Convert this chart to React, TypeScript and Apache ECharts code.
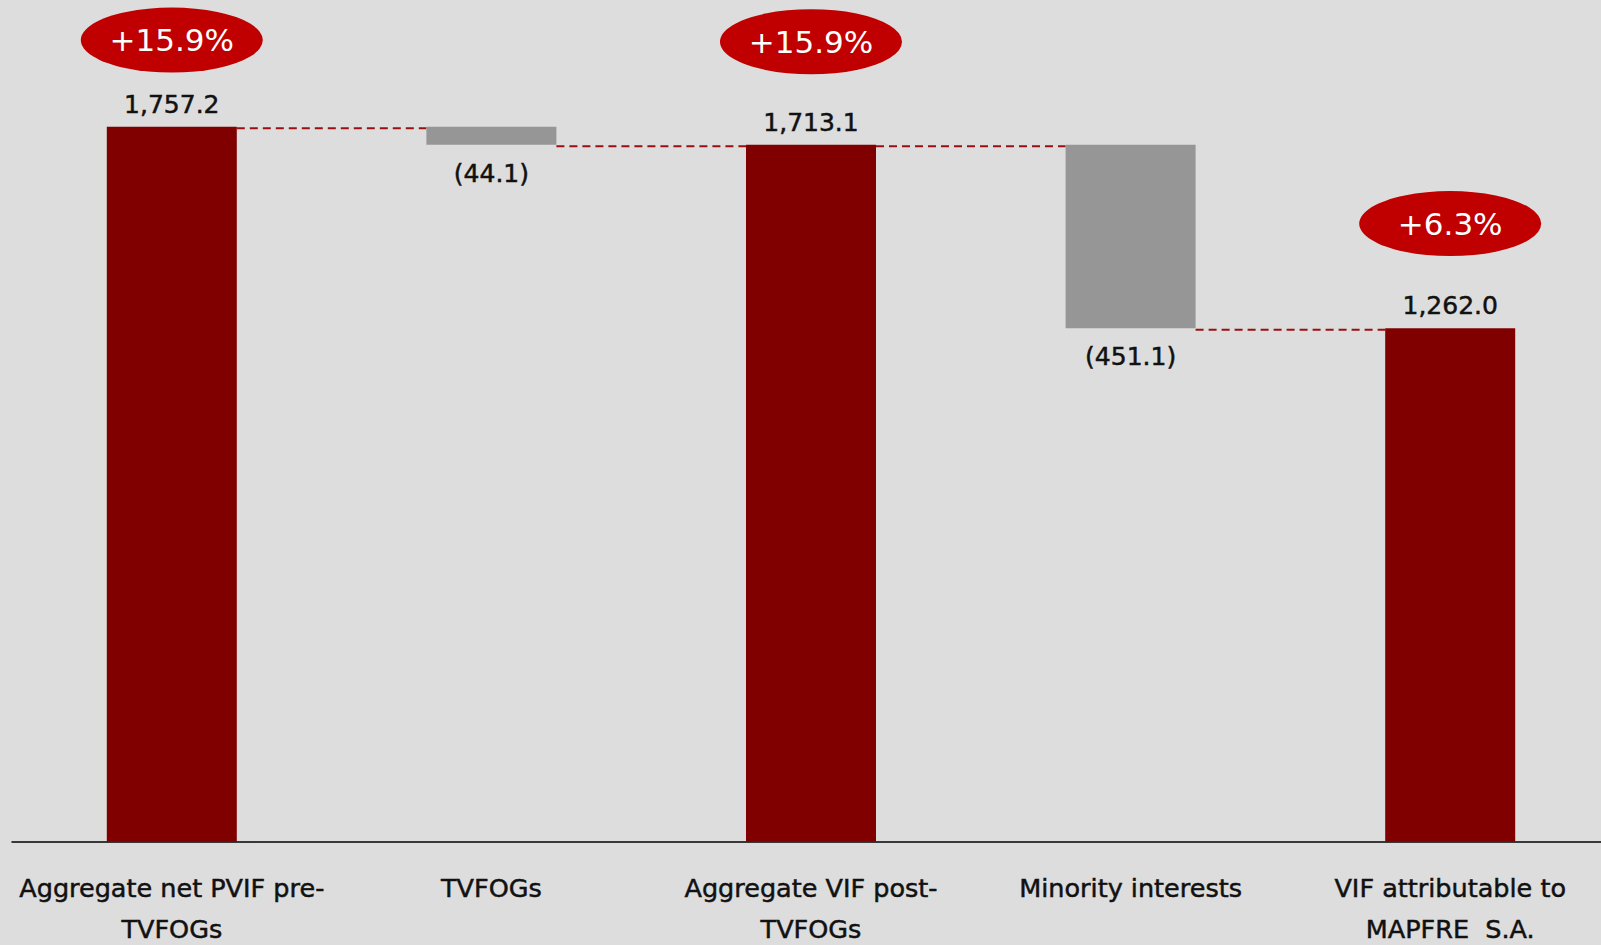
import React, { useEffect, useRef } from "react";
import * as echarts from "echarts";

const categories: string[] = [
  "Aggregate net PVIF pre-\nTVFOGs",
  "TVFOGs",
  "Aggregate VIF post-\nTVFOGs",
  "Minority interests",
  "VIF attributable to\nMAPFRE  S.A.",
];
// totals (red bars) and changes (grey floating bars)
const totals: (number | null)[] = [1757.2, null, 1713.1, null, 1262.0];
const changes: (number | null)[] = [null, -44.1, null, -451.1, null];
// growth badges and the value level where each badge is anchored
const badgeTexts: (string | null)[] = ["+15.9%", null, "+15.9%", null, "+6.3%"];
const badgeLevels: (number | null)[] = [1970, null, 1966, null, 1519];

const FONT = "DejaVu Sans";
const RED = "#800000";
const GREY = "#969696";
const BADGE = "#C00000";
const TEXT = "#111111";

function fmt(v: number): string {
  return v.toLocaleString("en-US", { minimumFractionDigits: 1, maximumFractionDigits: 1 });
}

export default function App() {
  const ref = useRef<HTMLDivElement>(null);

  useEffect(() => {
    document.body.style.margin = "0";
    if (!ref.current) return;
    const chart = echarts.init(ref.current, null, { renderer: "svg" });

    const base: (number | string)[] = [];
    const vis: any[] = [];
    const levels: number[] = [];
    let level = 0;
    categories.forEach((_, i) => {
      const t = totals[i];
      const c = changes[i];
      if (t != null) {
        base.push(0);
        vis.push({
          value: t,
          itemStyle: { color: RED },
          label: {
            show: true,
            position: "top",
            distance: 10,
            formatter: fmt(t),
          },
        });
        level = t;
      } else if (c != null) {
        const next = level + c;
        base.push(Math.min(level, next));
        vis.push({
          value: Math.abs(c),
          itemStyle: { color: GREY },
          label: {
            show: true,
            position: "bottom",
            distance: 16,
            formatter: c < 0 ? "(" + fmt(Math.abs(c)) + ")" : fmt(c),
          },
        });
        level = next;
      }
      levels.push(level);
    });

    const connectors = levels.slice(0, -1).map((lv, i) => [i, lv]);
    const badges = badgeTexts
      .map((t, i) => (t ? { value: [i, badgeLevels[i]], text: t } : null))
      .filter(Boolean) as any[];

    const BAR_W = 130;

    chart.setOption({
      animation: false,
      backgroundColor: "#DDDDDD",
      textStyle: { fontFamily: FONT },
      grid: {
        left: 12,
        right: 0,
        top: 27.9,
        bottom: 103.3,
        containLabel: false,
        outerBoundsMode: "none",
      },
      xAxis: {
        type: "category",
        data: categories,
        axisLine: { show: true, lineStyle: { color: "#000", width: 1.5 } },
        axisTick: { show: false },
        axisLabel: {
          interval: 0,
          margin: 26,
          color: TEXT,
          fontFamily: FONT,
          fontSize: 25.5,
          lineHeight: 41,
          textBorderColor: TEXT,
          textBorderWidth: 0.5,
        },
        splitLine: { show: false },
      },
      yAxis: {
        type: "value",
        min: 0,
        max: 2000,
        show: false,
        splitLine: { show: false },
      },
      series: [
        {
          type: "bar",
          stack: "wf",
          data: base,
          barWidth: BAR_W,
          itemStyle: { color: "transparent" },
          silent: true,
        },
        {
          type: "bar",
          stack: "wf",
          data: vis,
          barWidth: BAR_W,
          label: {
            color: TEXT,
            fontFamily: FONT,
            fontSize: 25,
            textBorderColor: TEXT,
            textBorderWidth: 0.5,
          },
        },
        {
          type: "custom",
          data: connectors,
          encode: { x: 0, y: 1 },
          z: 1,
          renderItem: (params: any, api: any) => {
            const i = api.value(0);
            const lv = api.value(1);
            const p1 = api.coord([i, lv]);
            const p2 = api.coord([i + 1, lv]);
            const y = p1[1] + 1.5;
            return {
              type: "line",
              shape: { x1: p1[0] + BAR_W / 2, y1: y, x2: p2[0] - BAR_W / 2, y2: y },
              style: { stroke: "#9A1010", lineWidth: 2, lineDash: [8, 5] },
            };
          },
        },
        {
          type: "scatter",
          data: badges,
          symbol: "circle",
          symbolSize: [182, 65],
          itemStyle: { color: BADGE, opacity: 1 },
          z: 5,
          label: {
            show: true,
            position: "inside",
            color: "#fff",
            fontFamily: FONT,
            fontSize: 31,
            formatter: (p: any) => p.data.text,
          },
        },
      ],
    });

    return () => chart.dispose();
  }, []);

  return (
    <div style={{ width: 1601, height: 945, overflow: "hidden", position: "relative" }}>
      <div ref={ref} style={{ width: 1610, height: 945 }} />
    </div>
  );
}
